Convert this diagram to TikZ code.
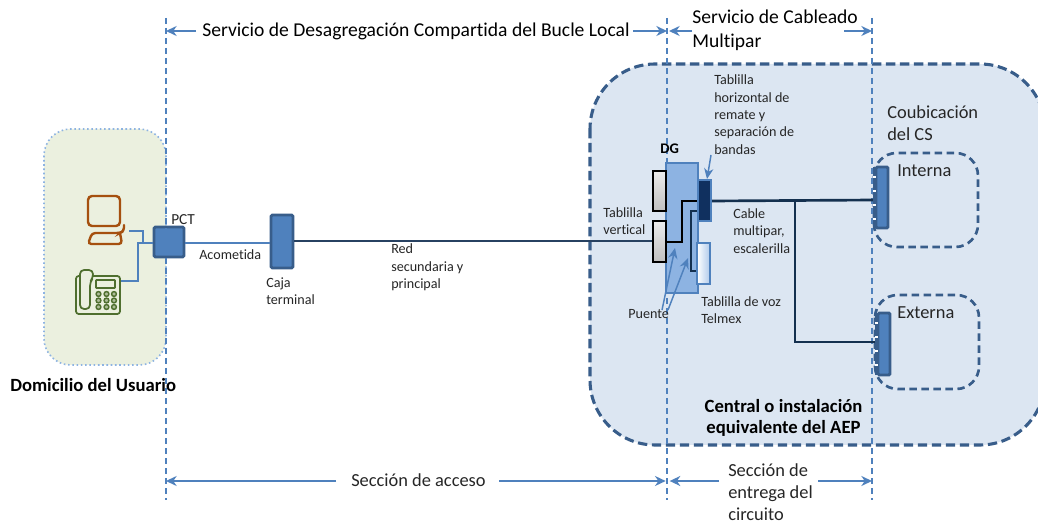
\documentclass[tikz,border=0pt]{standalone}
\usepackage{fontspec}
\setmainfont[Ligatures=NoCommon]{Carlito}
\usetikzlibrary{arrows.meta,fit}
\definecolor{bordA}{HTML}{385D8A}
\definecolor{blueA}{HTML}{4F81BD}
\definecolor{blueB}{HTML}{8DB3E2}
\definecolor{paleA}{HTML}{DCE6F2}
\definecolor{greenA}{HTML}{EBF0DF}
\definecolor{navyA}{HTML}{10305F}
\definecolor{lineA}{HTML}{14304F}
\definecolor{txtA}{HTML}{262626}
\definecolor{compA}{HTML}{A5500F}
\definecolor{phoneA}{HTML}{4F6F2F}
\tikzset{
  box/.style={inner sep=0pt,rectangle},
  guide/.style={blueA,line width=1.4pt,dash pattern=on 4.5pt off 3pt},
  spanarrow/.style={blueA,line width=1.3pt,-{Stealth[length=8pt,width=7.5pt]}},
  thinarrow/.style={blueA,line width=1.1pt,-{Stealth[length=8pt,width=7pt]}},
  bigdash/.style={draw=bordA,line width=2.3pt,dash pattern=on 7pt off 3.5pt,rounded corners=48.75pt,fill=paleA},
  smalldash/.style={draw=bordA,line width=2pt,dash pattern=on 5.5pt off 3.5pt,rounded corners=17pt},
  big/.style={anchor=west,inner sep=0pt,text=black,align=left,font=\fontsize{14.7}{18}\selectfont},
  mid/.style={anchor=west,inner sep=0pt,text=txtA,align=left,font=\fontsize{13.8}{16.5}\selectfont},
  boldt/.style={inner sep=0pt,text=black,align=center,font=\fontsize{14}{15.75}\selectfont\bfseries},
  small/.style={anchor=west,inner sep=0pt,text=txtA,align=left,font=\fontsize{10.6}{13}\selectfont},
  cabA/.style={lineA,line width=2pt},
  linkA/.style={blueA,line width=1.3pt},
  teeth/.style={white,line width=1.4pt},
  icoC/.style={compA,line width=1.8pt,rounded corners=3pt,line cap=round},
  icoP/.style={phoneA,line width=1.3pt,rounded corners=2pt},
  blk/.style={box,draw=bordA,line width=2.2pt,fill=blueA,rounded corners=1pt},
}
\begin{document}
\begin{tikzpicture}[x=0.75pt,y=-0.75pt]
\clip (0,0) rectangle (1038,523);
\fill[white] (0,0) rectangle (1038,523);
% large regions
\path[bigdash] (590,64) rectangle (1045,445);
\draw[blueB,fill=greenA,line width=1.2pt,dotted,rounded corners=20pt] (44,129) rectangle (166,365);
\draw[smalldash] (874,153) rectangle (978,247);
\draw[smalldash] (875,295) rectangle (979,389);

% guides
\coordinate (g1t) at (166,18); \coordinate (g1b) at (166,500);
\coordinate (g2t) at (667,18); \coordinate (g2b) at (667,500);
\coordinate (g3t) at (872,18); \coordinate (g3b) at (872,500);
\draw[guide] (g2t) -- (g2b);
\draw[guide] (g3t) -- (g3b);

% DG blocks
\node[box,draw=blueA,line width=1.5pt,fill=blueB,fit={(666,163)(698,293)}] (dg) {};
\node[box,draw=black,line width=1.4pt,top color=gray!15,bottom color=gray!50,fit={(653,171)(666,211)}] (tv1) {};
\node[box,draw=black,line width=1.4pt,top color=gray!15,bottom color=gray!50,fit={(653,221)(666,262)}] (tv2) {};
\node[box,draw=blueA,line width=1.5pt,fill=navyA,fit={(698,180)(711,221)}] (th) {};
\node[box,draw=blueA,line width=1.5pt,left color=white,right color=blueB!70,fit={(697,243)(710,284)}] (tvoz) {};

% end blocks
\node[blk,fit={(154,227)(184,257)}] (pct) {};
\node[blk,fit={(271,215)(293,268)}] (caja) {};
\node[blk,fit={(876,167)(888,228)}] (cint) {};
\node[blk,fit={(878,313)(890,375)}] (cext) {};

% icons: computer
\coordinate (comp) at (129,231);
\draw[icoC] (97,226) -- (88,226) -- (88,196) -- (120,196) -- (120,226) -- (97,226);
\draw[compA,line width=1.8pt,line cap=round,rounded corners=2.5pt] (124,225) -- (124,231) -- (120,233) -- (92,233) -- (88,244) -- (122,244) -- (120,233);
% icons: phone
\coordinate (phone) at (121,281);
\draw[icoP] (84,276) -- (120,276) -- (120,314) -- (76,314) -- (76,276) -- (81,276);
\draw[icoP,fill=greenA,rounded corners=3pt] (80,270) -- (93,270) -- (93,278) -- (90,282) -- (90,309) -- (80,309) -- cycle;
\draw[icoP,rounded corners=0.5pt] (96,280) rectangle (115,288);
\foreach \xx in {98.5,106.5,114}\foreach \yy in {294,300.5,307}{\draw[phoneA,line width=1.1pt,fill=greenA!60!phoneA] (\xx,\yy) circle[radius=2.4];}

% connectors
\draw[linkA] (comp) -- (143,231) -- (143,243) -- (pct.west|-0,243);
\draw[linkA] (phone) -- (138,281) -- (138,243) -- (pct.west|-0,243);
\draw[linkA] (pct.east|-0,243) -- (caja.west|-0,243);
\draw[bordA!70!black,line width=1.6pt] (caja.east|-0,241) -- (tv2.west|-0,241);
\draw[black,line width=2pt] (tv2.east|-0,242) -- (682,242) -- (682,201) -- (th.west|-0,201);
\draw[lineA,line width=2pt] (th.west|-0,211) -- (691,211) -- (691,271) -- (tvoz.west|-0,271);
\draw[cabA] (th.east|-0,201) -- (cint.west|-0,200);
\draw[cabA] (795,201) -- (795,342) -- (cext.west|-0,342);

% connector combs
\fill[bordA] (873,167) rectangle (876,228);
\fill[bordA] (875,313) rectangle (878,375);
\foreach \yy in {177,191,205,219}{\draw[teeth] (873,\yy) -- (875.5,\yy);}
\foreach \yy in {323,337,351,365}{\draw[teeth] (875,\yy) -- (877.5,\yy);}

% guide over the user block
\draw[guide] (g1t) -- (g1b);

% span arrows
\coordinate (a1) at (196,31); \coordinate (a2) at (633,31);
\coordinate (a3) at (692,31); \coordinate (a4) at (844,31);
\draw[spanarrow] (a1) -- (g1t|-a1);
\draw[spanarrow] (a2) -- (g2t|-a2);
\draw[spanarrow] (a3) -- ([xshift=1.5pt]g2t|-a3);
\draw[spanarrow] (a4) -- (g3t|-a4);
\coordinate (b1) at (336,481); \coordinate (b2) at (499,481);
\coordinate (b3) at (719,481); \coordinate (b4) at (818,481);
\draw[spanarrow] (b1) -- (g1b|-b1);
\draw[spanarrow] (b2) -- ([xshift=-1pt]g2b|-b2);
\draw[spanarrow] (b3) -- ([xshift=2pt]g2b|-b3);
\draw[spanarrow] (b4) -- (g3b|-b4);

% pointers
\coordinate (pb) at (711,155);
\draw[thinarrow] (pb) -- (th.north-|707,0);
\coordinate (pu1) at (662,310); \coordinate (pu2) at (668,310);
\coordinate (j1) at (675,248); \coordinate (j2) at (688,258);
\draw[thinarrow] (pu1) -- (j1);
\draw[thinarrow] (pu2) -- (j2);

% texts
\node[big] (t1) at (202,31) {Servicio de Desagregación Compartida del Bucle Local};
\node[big] (t2) at (692,30) {Servicio de Cableado\\Multipar};
\node[mid] (t3) at (351,480) {Sección de acceso};
\node[mid] (t4) at (728,492) {Sección de\\entrega del\\circuito};
\node[boldt,anchor=west] (t5) at (10,385) {Domicilio del Usuario};
\node[boldt] (t6) at (783.5,418) {Central o instalación\\equivalente del AEP};
\node[mid] (t7) at (887,123) {Coubicación\\del CS};
\node[mid] (t8) at (897,171) {Interna};
\node[mid] (t9) at (897,313) {Externa};
\node[small] (t10) at (714,114.5) {Tablilla\\horizontal de\\remate y\\separación de\\bandas};
\node[small] (t11) at (603,221) {Tablilla\\vertical};
\node[small] (t12) at (733,231) {Cable\\multipar,\\escalerilla};
\node[small] (t13) at (701,310) {Tablilla de voz\\Telmex};
\node[small] (t14) at (628,314) {Puente};
\node[boldt,anchor=west,font=\fontsize{11}{12}\selectfont\bfseries] (t15) at (660,149) {DG};
\node[small] (t16) at (266,291.5) {Caja\\terminal};
\node[small] (t17) at (391,267.5) {Red\\secundaria y\\principal};
\node[small,font=\fontsize{11.5}{13}\selectfont] (t18) at (171,220) {PCT};
\node[small] (t19) at (199,255) {Acometida};
\end{tikzpicture}
\end{document}
